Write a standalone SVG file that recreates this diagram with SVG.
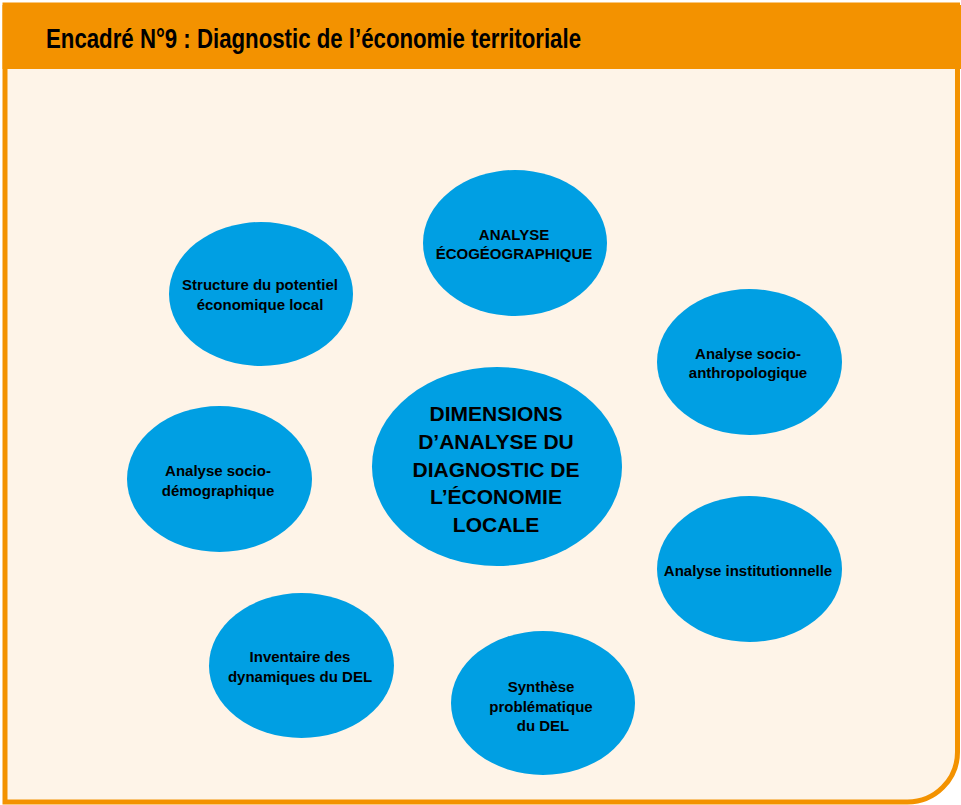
<svg xmlns="http://www.w3.org/2000/svg" width="961" height="805" viewBox="0 0 961 805">
<style>
.node{fill:#009FE3;}
.t{font-family:"Liberation Sans",Arial,sans-serif;font-weight:bold;font-size:15px;fill:#000;text-anchor:middle;}
.tc{font-family:"Liberation Sans",Arial,sans-serif;font-weight:bold;font-size:21px;fill:#000;text-anchor:middle;}
.title{font-family:"Liberation Sans",Arial,sans-serif;font-weight:bold;font-size:27px;fill:#000;}
</style>
<rect x="0" y="0" width="961" height="805" fill="#FFFFFF"/>
<g id="frame">
<path d="M5 5 H957.5 V752 A50 50 0 0 1 907.5 802 H5 Z" fill="#FEF4E8" stroke="#F39200" stroke-width="5"/>
<rect x="2.5" y="5" width="958.5" height="64" fill="#F39200"/>
<text class="title" x="46" y="48" textLength="535" lengthAdjust="spacingAndGlyphs">Encadré N°9 : Diagnostic de l’économie territoriale</text>
</g>
<g id="connectors"></g>
<g id="n-ecogeo">
<ellipse class="node" cx="515" cy="243" rx="92" ry="73"/>
<text class="t" x="514" y="240">ANALYSE</text>
<text class="t" x="514" y="259">ÉCOGÉOGRAPHIQUE</text>
</g>
<g id="n-structure">
<ellipse class="node" cx="261" cy="294" rx="92" ry="72"/>
<text class="t" x="260" y="290">Structure du potentiel</text>
<text class="t" x="260" y="310">économique local</text>
</g>
<g id="n-anthro">
<ellipse class="node" cx="749.5" cy="362" rx="92.5" ry="73"/>
<text class="t" x="748" y="359">Analyse socio-</text>
<text class="t" x="748" y="378">anthropologique</text>
</g>
<g id="n-center">
<ellipse class="node" cx="497" cy="466.5" rx="125" ry="99.5"/>
<text class="tc" x="496" y="421">DIMENSIONS</text>
<text class="tc" x="496" y="449">D’ANALYSE DU</text>
<text class="tc" x="496" y="477">DIAGNOSTIC DE</text>
<text class="tc" x="496" y="504">L’ÉCONOMIE</text>
<text class="tc" x="496" y="532">LOCALE</text>
</g>
<g id="n-demo">
<ellipse class="node" cx="219.5" cy="479" rx="92.5" ry="73"/>
<text class="t" x="218" y="476">Analyse socio-</text>
<text class="t" x="218" y="496">démographique</text>
</g>
<g id="n-inst">
<ellipse class="node" cx="749.5" cy="569" rx="92.5" ry="73"/>
<text class="t" x="748" y="576">Analyse institutionnelle</text>
</g>
<g id="n-inventaire">
<ellipse class="node" cx="301.5" cy="665.5" rx="92.5" ry="72.5"/>
<text class="t" x="300" y="662">Inventaire des</text>
<text class="t" x="300" y="682">dynamiques du DEL</text>
</g>
<g id="n-synthese">
<ellipse class="node" cx="543" cy="703" rx="92" ry="72"/>
<text class="t" x="541" y="692">Synthèse</text>
<text class="t" x="541" y="712">problématique</text>
<text class="t" x="543" y="731">du DEL</text>
</g>
</svg>
